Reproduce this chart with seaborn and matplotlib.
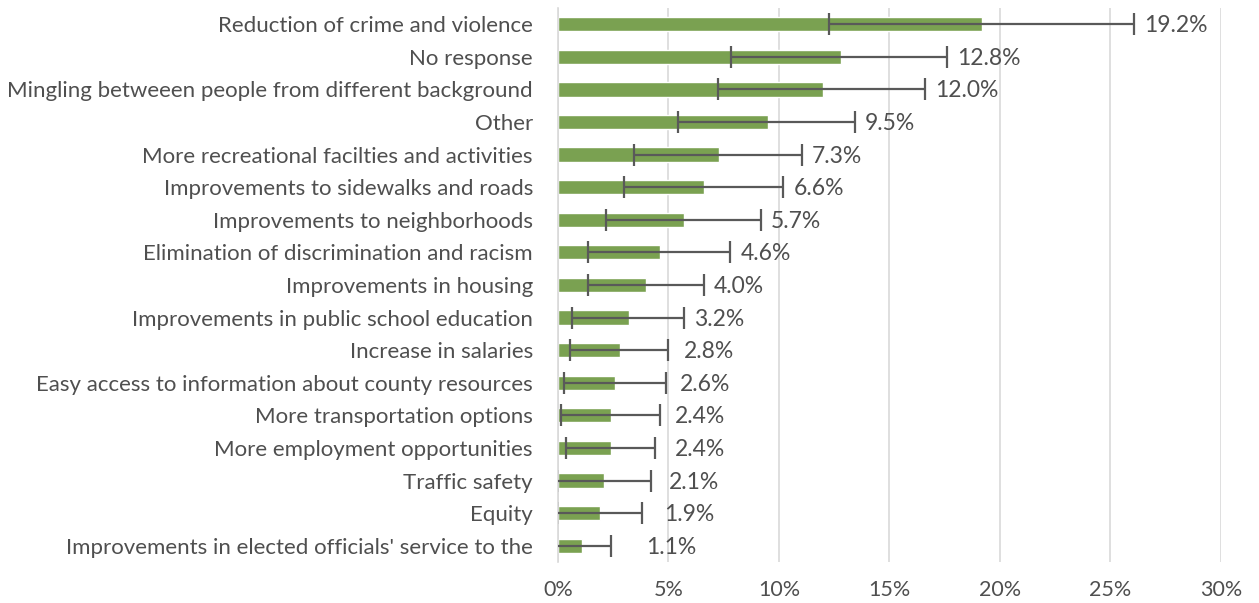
import numpy as np
import pandas as pd
import seaborn as sns
import matplotlib.pyplot as plt

# --- Data ---
categories = [
    "Reduction of crime and violence",
    "No response",
    "Mingling betweeen people from different background",
    "Other",
    "More recreational facilties and activities",
    "Improvements to sidewalks and roads",
    "Improvements to neighborhoods",
    "Elimination of discrimination and racism",
    "Improvements in housing",
    "Improvements in public school education",
    "Increase in salaries",
    "Easy access to information about county resources",
    "More transportation options",
    "More employment opportunities",
    "Traffic safety",
    "Equity",
    "Improvements in elected officials' service to the",
]
values = [19.2, 12.8, 12.0, 9.5, 7.3, 6.6, 5.7, 4.6, 4.0, 3.2, 2.8, 2.6, 2.4, 2.4, 2.1, 1.9, 1.1]
ci_low = [12.25, 7.85, 7.25, 5.45, 3.45, 3.0, 2.15, 1.37, 1.37, 0.65, 0.56, 0.26, 0.15, 0.35, -0.05, -0.05, -0.2]
ci_high = [26.05, 17.6, 16.6, 13.45, 11.05, 10.2, 9.2, 7.8, 6.6, 5.7, 5.0, 4.9, 4.6, 4.4, 4.2, 3.8, 2.4]
x_ticks = [0, 5, 10, 15, 20, 25, 30]

df = pd.DataFrame({"Category": categories, "Percent": values})

bar_color = "#7AAE44"
text_color = "#4F4F4F"

sns.set_style("white")
plt.rcParams["font.family"] = ["Lato", "DejaVu Sans"]

fig, ax = plt.subplots(figsize=(12.59, 6.03), dpi=100)
fig.subplots_adjust(left=0.4432, right=0.9698, top=0.987, bottom=0.068)

sns.barplot(data=df, x="Percent", y="Category", color=bar_color,
            width=0.44, errorbar=None, ax=ax, zorder=2)

# error bars (confidence intervals)
ypos = np.arange(len(categories))
vals = np.array(values)
lo = vals - np.array(ci_low)
hi = np.array(ci_high) - vals
ax.errorbar(vals, ypos, xerr=[lo, hi], fmt="none", ecolor="#595959",
            elinewidth=1.6, capsize=8, capthick=1.6, zorder=3, clip_on=True)

# data labels
for y, v, h in zip(ypos, values, ci_high):
    ax.text(max(h + 0.45, v + 2.9), y + 0.05, f"{v:.1f}%", va="center", ha="left",
            fontsize=16.5, color=text_color)

ax.set_xlim(0, 30)
ax.set_ylim(len(categories) - 0.5, -0.5)
ax.set_xticks(x_ticks)
ax.set_xticklabels([f"{t}%" for t in x_ticks])
ax.xaxis.grid(True, color="#D9D9D9", linewidth=1.2, zorder=0)
ax.set_axisbelow(True)
ax.set_xlabel("")
ax.set_ylabel("")
for side in ["top", "right", "bottom"]:
    ax.spines[side].set_visible(False)
ax.spines["left"].set_color("#D9D9D9")
ax.spines["left"].set_linewidth(1.2)
ax.tick_params(axis="y", length=0, pad=18, labelsize=16, labelcolor=text_color)
ax.tick_params(axis="x", length=0, pad=13, labelsize=15.5, labelcolor=text_color)

fig.savefig("out.png", dpi=100)
